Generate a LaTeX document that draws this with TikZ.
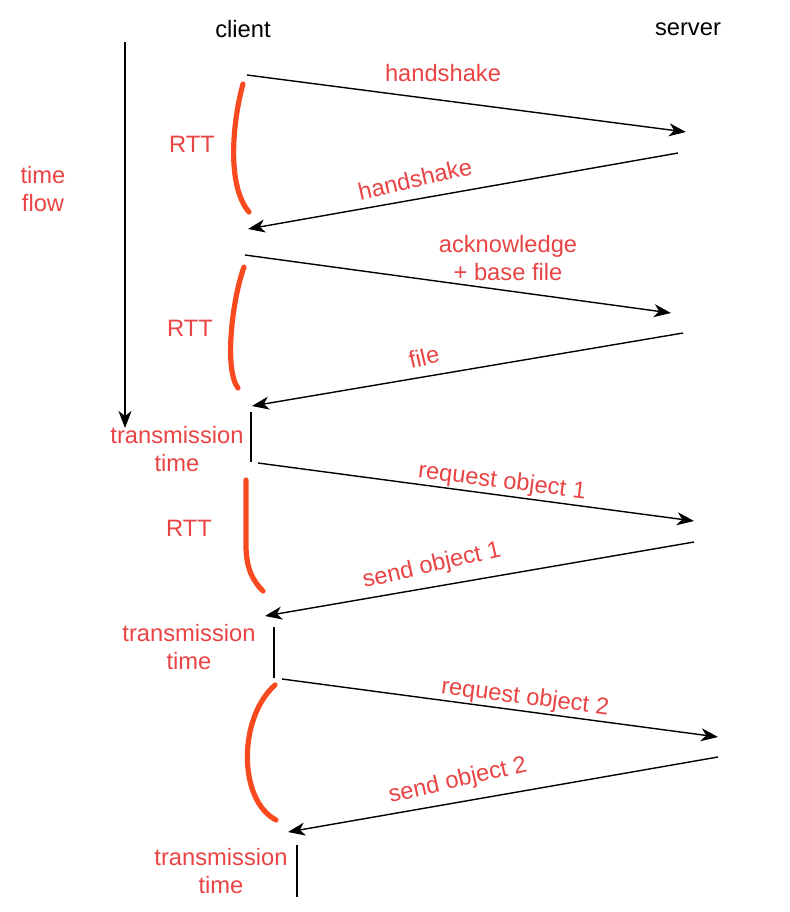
\documentclass[tikz,border=0pt]{standalone}
\usepackage{fontspec}
\setmainfont{Liberation Sans}
\usetikzlibrary{arrows.meta,positioning}
\definecolor{labelRed}{HTML}{E94343}
\definecolor{rttOrange}{HTML}{F94A1F}

\begin{document}
\begin{tikzpicture}[x=0.5pt,y=-0.5pt,>={Stealth[length=8.5pt,width=6.5pt,inset=2.5pt]},
	Msg/.style={->,black,line width=0.7pt},
	Tick/.style={-,black,line width=0.8pt},
	Brace/.style={rttOrange,line width=2.6pt,line cap=round},
	Side/.style={font=\fontsize{11.85}{14}\selectfont,text=black,inner sep=0pt},
	Lbl/.style={font=\fontsize{11.85}{14}\selectfont,text=labelRed,inner sep=0pt,align=center},
]
	\useasboundingbox (0,0) rectangle (790,912);
	% hosts
	\node[Side] (client) at (243,29) {client};
	\node[Side] (server) at (688,29) {server};
	% time axis
	\coordinate (t0) at (125,42);
	\coordinate (t1) at (125,428);
	\draw[Msg,line width=0.8pt] (t0) -- (t1);
	\node[Lbl] (flow) at (43,189) {time\\flow};
	
	% end points of the messages
	\coordinate (c1) at (247,75);   \coordinate (s1) at (686,132);
	\coordinate (s2) at (678,153);  \coordinate (c2) at (248,229);
	\coordinate (c3) at (245,255);  \coordinate (s3) at (671,313);
	\coordinate (s4) at (683,333);  \coordinate (c4) at (252,406);
	\coordinate (c5) at (258,463);  \coordinate (s5) at (694,521);
	\coordinate (s6) at (694,542);  \coordinate (c6) at (265,616);
	\coordinate (c7) at (282,679);  \coordinate (s7) at (718,737);
	\coordinate (s8) at (718,757);  \coordinate (c8) at (288,832);
	
	\draw[Msg] (c1) -- (s1);
	\draw[Msg] (s2) -- (c2);
	\draw[Msg] (c3) -- (s3);
	\draw[Msg] (s4) -- (c4);
	\draw[Msg] (c5) -- (s5);
	\draw[Msg] (s6) -- (c6);
	\draw[Msg] (c7) -- (s7);
	\draw[Msg] (s8) -- (c8);
	
	\node[Lbl] (hs1) at (443,73) {handshake};
	\node[Lbl,rotate=13] (hs2) at (415,179) {handshake};
	\node[Lbl] (ack) at (508,258) {acknowledge\\+ base file};
	\node[Lbl,rotate=13] (file) at (424,357) {file};
	\node[Lbl,rotate=-7.2] (req1) at (502,482) {request object 1};
	\node[Lbl,rotate=13] (snd1) at (432,566) {send object 1};
	\node[Lbl,rotate=-7.2] (req2) at (525,698) {request object 2};
	\node[Lbl,rotate=13] (snd2) at (458,781) {send object 2};
	
	% round trips
	\draw[Brace] (243,84) .. controls (233,120) and (226,185) .. (249,212);
	\draw[Brace] (244,267) .. controls (232,300) and (224,370) .. (238,388);
	\draw[Brace] (246,480) -- (246,545) .. controls (246,570) and (254,582) .. (263,591);
	\draw[Brace] (275,685) .. controls (238,718) and (238,800) .. (276,820);
	\node[Lbl] (rtt1) at (192,144) {RTT};
	\node[Lbl] (rtt2) at (190,328) {RTT};
	\node[Lbl] (rtt3) at (189,528) {RTT};
	
	% transmission times
	\coordinate (a1) at (251,412); \coordinate (b1) at (251,462);
	\coordinate (a2) at (274,627); \coordinate (b2) at (274,678);
	\coordinate (a3) at (297,845); \coordinate (b3) at (297,897);
	\draw[Tick] (a1) -- (b1);
	\draw[Tick] (a2) -- (b2);
	\draw[Tick] (a3) -- (b3);
	\node[Lbl] (tx1) at (177,449) {transmission\\time};
	\node[Lbl] (tx2) at (189,647) {transmission\\time};
	\node[Lbl] (tx3) at (221,871) {transmission\\time};
\end{tikzpicture}
\end{document}
